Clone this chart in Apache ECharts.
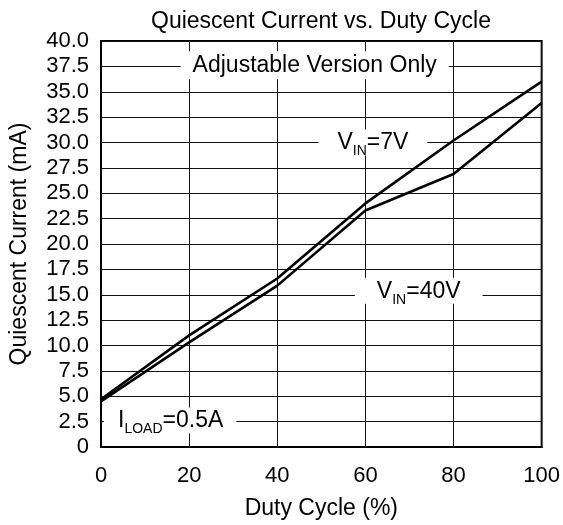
<!DOCTYPE html>
<html>
<head>
<meta charset="utf-8">
<script src="https://cdn.jsdelivr.net/npm/echarts@6/dist/echarts.min.js"></script>
<style>
html,body{margin:0;padding:0;background:#fff;}
#c{width:563px;height:525px;}
</style>
</head>
<body>
<div id="c"></div>
<script>
const dutyCycle = [0, 20, 40, 60, 80, 100];
const vin7V = [4.7, 11.0, 16.6, 24.0, 30.2, 36.0];
const vin40V = [4.5, 10.3, 15.9, 23.3, 26.9, 33.9];
const yTickLabels = ['0','2.5','5.0','7.5','10.0','12.5','15.0','17.5','20.0','22.5','25.0','27.5','30.0','32.5','35.0','37.5','40.0'];
const xTickLabels = ['0','20','40','60','80','100'];

const FONT = 'Liberation Sans, Arial, sans-serif';
const chart = echarts.init(document.getElementById('c'), null, {renderer: 'canvas'});

const mainStyle = {fontSize: 23, lineHeight: 22, verticalAlign: 'top', color: '#000', fontFamily: FONT};
const subStyle = {fontSize: 14, lineHeight: 14, padding: [13, 0, 0, 0], verticalAlign: 'top', color: '#000', fontFamily: FONT};

function annot(x, y, fmt, pad) {
  return {
    coord: [x, y],
    symbolSize: 0,
    label: {
      show: true,
      position: 'inside',
      formatter: fmt,
      backgroundColor: '#fff',
      padding: pad,
      fontSize: 23,
      fontFamily: FONT,
      color: '#000',
      rich: {m: mainStyle, s: subStyle}
    }
  };
}

const option = {
  animation: false,
  backgroundColor: '#fff',
  title: {
    text: 'Quiescent Current vs. Duty Cycle',
    left: 146,
    top: 5,
    textStyle: {fontSize: 23, fontWeight: 'normal', color: '#000', fontFamily: FONT}
  },
  grid: {
    left: 100, right: 19, top: 41, bottom: 78,
    show: true, borderColor: '#000', borderWidth: 2, backgroundColor: 'transparent'
  },
  xAxis: {
    type: 'value', min: 0, max: 100, interval: 20,
    name: 'Duty Cycle (%)', nameLocation: 'middle', nameGap: 50,
    nameTextStyle: {fontSize: 23, color: '#000', fontFamily: FONT},
    axisLine: {show: true, lineStyle: {color: '#000', width: 2}},
    axisTick: {show: false},
    axisLabel: {
      fontSize: 22, color: '#000', fontFamily: FONT, margin: 18,
      formatter: v => xTickLabels[dutyCycle.indexOf(v)] ?? String(v)
    },
    splitLine: {show: true, lineStyle: {color: '#111', width: 1}}
  },
  yAxis: {
    type: 'value', min: 0, max: 40, interval: 2.5,
    name: 'Quiescent Current (mA)', nameLocation: 'middle', nameGap: 70,
    nameTextStyle: {fontSize: 23, color: '#000', fontFamily: FONT},
    axisLine: {show: true, lineStyle: {color: '#000', width: 2}},
    axisTick: {show: false},
    axisLabel: {
      fontSize: 22, color: '#000', fontFamily: FONT, margin: 12,
      formatter: v => yTickLabels[Math.round(v / 2.5)]
    },
    splitLine: {show: true, lineStyle: {color: '#111', width: 1}}
  },
  series: [
    {
      name: 'VIN=7V', type: 'line', showSymbol: false, symbol: 'none',
      lineStyle: {color: '#000', width: 2.6},
      data: dutyCycle.map((x, i) => [x, vin7V[i]]),
      markPoint: {
        symbol: 'circle', symbolSize: 0, silent: true,
        data: [
          annot(48.5, 37.6, '{m|Adjustable Version Only}', [3, 12, 3, 12]),
          annot(61.7, 30.0, '{m|V}{s|IN}{m|=7V}', [2, 19, 2, 19]),
          annot(72.1, 15.4, '{m|V}{s|IN}{m|=40V}', [2, 22, 2, 22]),
          annot(15.7, 2.6, '{m|I}{s|LOAD}{m|=0.5A}', [2, 13, 2, 14])
        ]
      }
    },
    {
      name: 'VIN=40V', type: 'line', showSymbol: false, symbol: 'none',
      lineStyle: {color: '#000', width: 2.6},
      data: dutyCycle.map((x, i) => [x, vin40V[i]])
    }
  ]
};
chart.setOption(option);
</script>
</body>
</html>
